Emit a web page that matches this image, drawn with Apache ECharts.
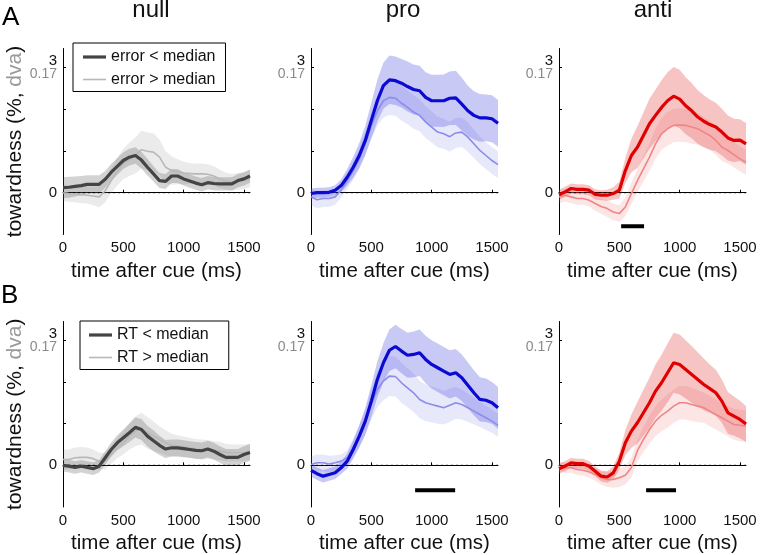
<!DOCTYPE html>
<html><head><meta charset="utf-8">
<script src="https://cdn.jsdelivr.net/npm/echarts@6/dist/echarts.min.js"></script>
<style>html,body{margin:0;padding:0;background:#fff}#c{width:760px;height:555px}</style>
</head><body><div id="c"></div>
<script>
// ---- data ----
const time = [0,50,100,150,200,250,300,350,400,450,500,550,600,650,700,750,800,850,900,950,1000,1050,1100,1150,1200,1250,1300,1350,1400,1450,1500,1550];
const xTicks = [0,500,1000,1500];
const yTicks = [0,1,2,3];
const yLabels = [0,3];
const zeroLine = [0, 1550];
const colTitles = ['null','pro','anti'];
const rowLabels = ['A','B'];
const legendA = ['error < median','error > median'];
const legendB = ['RT < median','RT > median'];

// row A (split by error)
const nullA_thick = [0.12,0.13,0.15,0.17,0.2,0.2,0.2,0.32,0.49,0.63,0.77,0.85,0.89,0.78,0.61,0.45,0.29,0.27,0.4,0.4,0.33,0.28,0.23,0.19,0.24,0.22,0.21,0.21,0.21,0.29,0.33,0.4];
const nullA_thin  = [0.0,-0.02,-0.03,-0.05,-0.06,-0.08,-0.1,0.05,0.29,0.5,0.69,0.8,0.89,1.03,0.99,0.97,0.85,0.61,0.53,0.5,0.47,0.46,0.45,0.45,0.44,0.4,0.33,0.28,0.25,0.27,0.29,0.33];
const nullA_thickHw = [0.25,0.25,0.24,0.23,0.22,0.22,0.22,0.2,0.2,0.2,0.2,0.2,0.2,0.2,0.2,0.18,0.18,0.18,0.17,0.17,0.16,0.16,0.16,0.16,0.16,0.16,0.16,0.16,0.16,0.16,0.16,0.16];
const nullA_thinHw  = [0.2,0.2,0.2,0.2,0.2,0.22,0.25,0.28,0.3,0.33,0.36,0.4,0.43,0.45,0.45,0.45,0.42,0.38,0.34,0.3,0.27,0.25,0.25,0.25,0.24,0.23,0.22,0.2,0.2,0.2,0.2,0.2];

const proA_thick = [-0.02,0,0,0.01,0.06,0.17,0.37,0.61,0.89,1.25,1.73,2.2,2.56,2.7,2.68,2.62,2.54,2.47,2.44,2.28,2.2,2.2,2.2,2.26,2.27,2.12,1.96,1.85,1.79,1.79,1.77,1.66];
const proA_thin  = [-0.1,-0.17,-0.14,-0.14,-0.1,0.06,0.29,0.53,0.81,1.17,1.6,1.96,2.2,2.28,2.26,2.14,2.04,1.93,1.85,1.69,1.57,1.45,1.41,1.34,1.43,1.45,1.33,1.17,1.01,0.89,0.77,0.67];
const proA_thickHw = [0.12,0.12,0.12,0.12,0.12,0.15,0.2,0.25,0.3,0.35,0.42,0.5,0.55,0.58,0.58,0.58,0.6,0.6,0.6,0.6,0.62,0.62,0.63,0.64,0.65,0.63,0.6,0.58,0.57,0.56,0.56,0.56];
const proA_thinHw  = [0.2,0.2,0.2,0.2,0.18,0.18,0.2,0.22,0.25,0.28,0.32,0.36,0.4,0.42,0.42,0.42,0.4,0.4,0.38,0.38,0.37,0.37,0.36,0.36,0.36,0.35,0.35,0.34,0.33,0.32,0.32,0.32];

const antiA_thick = [-0.05,0.02,0.1,0.08,0.08,0.06,-0.04,-0.06,-0.06,-0.02,0.06,0.53,0.89,1.09,1.37,1.65,1.85,2.04,2.2,2.31,2.24,2.08,1.96,1.81,1.71,1.63,1.57,1.45,1.31,1.25,1.26,1.17];
const antiA_thin  = [-0.1,-0.06,-0.1,-0.14,-0.14,-0.18,-0.26,-0.33,-0.38,-0.46,-0.5,-0.34,-0.02,0.29,0.57,0.85,1.17,1.41,1.53,1.61,1.62,1.61,1.57,1.53,1.45,1.37,1.25,1.09,1.01,0.91,0.81,0.73];
const antiA_thickHw = [0.12,0.12,0.12,0.12,0.12,0.12,0.12,0.12,0.13,0.15,0.2,0.3,0.4,0.5,0.55,0.6,0.62,0.65,0.68,0.7,0.7,0.68,0.66,0.64,0.62,0.6,0.58,0.56,0.54,0.52,0.5,0.5];
const antiA_thinHw  = [0.15,0.15,0.15,0.15,0.15,0.15,0.17,0.18,0.2,0.2,0.2,0.22,0.25,0.28,0.3,0.33,0.36,0.38,0.4,0.4,0.4,0.4,0.4,0.38,0.36,0.35,0.34,0.33,0.32,0.31,0.3,0.3];

// row B (split by RT)
const nullB_thick = [0,-0.02,-0.05,-0.02,-0.05,-0.08,-0.02,0.18,0.38,0.54,0.66,0.78,0.91,0.86,0.7,0.59,0.48,0.39,0.42,0.42,0.4,0.38,0.36,0.35,0.39,0.34,0.26,0.19,0.19,0.19,0.26,0.31];
const nullB_thin  = [0.14,0.14,0.18,0.19,0.19,0.16,0.1,0.1,0.26,0.42,0.54,0.7,0.82,0.88,0.78,0.7,0.62,0.54,0.48,0.46,0.44,0.42,0.39,0.38,0.38,0.36,0.34,0.31,0.3,0.3,0.3,0.32];
const nullB_thickHw = [0.15,0.15,0.15,0.15,0.15,0.15,0.15,0.16,0.17,0.18,0.2,0.22,0.24,0.25,0.25,0.25,0.23,0.22,0.2,0.2,0.2,0.2,0.2,0.2,0.2,0.2,0.2,0.2,0.2,0.2,0.2,0.2];
const nullB_thinHw  = [0.24,0.24,0.25,0.25,0.24,0.22,0.2,0.2,0.22,0.25,0.28,0.32,0.36,0.38,0.38,0.35,0.32,0.3,0.28,0.26,0.25,0.24,0.24,0.24,0.23,0.22,0.22,0.21,0.2,0.2,0.2,0.2];

const proB_thick = [-0.12,-0.2,-0.26,-0.22,-0.18,-0.06,0.1,0.38,0.7,1.06,1.54,2.06,2.46,2.76,2.85,2.74,2.64,2.66,2.7,2.54,2.42,2.34,2.26,2.18,2.22,2.1,1.92,1.74,1.58,1.56,1.5,1.38];
const proB_thin  = [0.02,0.06,0.06,0.03,0.06,0.1,0.18,0.42,0.7,1.02,1.46,1.82,2.02,2.14,2.13,1.98,1.86,1.74,1.58,1.5,1.46,1.42,1.38,1.44,1.5,1.46,1.38,1.3,1.22,1.14,1.06,0.96];
const proB_thickHw = [0.15,0.15,0.15,0.15,0.15,0.15,0.18,0.22,0.27,0.32,0.38,0.43,0.47,0.5,0.52,0.53,0.54,0.55,0.56,0.57,0.58,0.58,0.58,0.58,0.57,0.56,0.55,0.54,0.53,0.52,0.5,0.5];
const proB_thinHw  = [0.2,0.2,0.2,0.2,0.18,0.16,0.18,0.22,0.26,0.3,0.36,0.42,0.46,0.48,0.48,0.48,0.47,0.46,0.45,0.44,0.43,0.42,0.4,0.4,0.38,0.36,0.34,0.32,0.3,0.29,0.28,0.28];

const antiB_thick = [-0.08,-0.02,0.06,0.04,0.04,-0.02,-0.14,-0.26,-0.28,-0.18,0.1,0.54,0.82,1.02,1.26,1.5,1.78,1.98,2.22,2.46,2.42,2.3,2.18,2.06,1.94,1.84,1.74,1.54,1.26,1.18,1.1,0.99];
const antiB_thin  = [-0.02,-0.06,-0.06,-0.1,-0.12,-0.16,-0.22,-0.3,-0.34,-0.34,-0.3,-0.24,-0.05,0.35,0.62,0.86,1.06,1.2,1.3,1.42,1.5,1.5,1.46,1.42,1.38,1.3,1.22,1.14,1.06,0.98,0.96,0.94];
const antiB_thickHw = [0.12,0.12,0.12,0.12,0.12,0.12,0.12,0.13,0.14,0.16,0.2,0.3,0.4,0.5,0.55,0.6,0.64,0.67,0.7,0.72,0.72,0.7,0.68,0.65,0.62,0.58,0.55,0.52,0.5,0.47,0.45,0.43];
const antiB_thinHw  = [0.12,0.12,0.12,0.13,0.13,0.14,0.15,0.16,0.18,0.2,0.22,0.22,0.24,0.26,0.3,0.33,0.36,0.38,0.4,0.4,0.4,0.4,0.4,0.38,0.36,0.36,0.36,0.36,0.36,0.37,0.38,0.38];

// significance bars: [start ms, end ms, y]
const sigA_anti = [515, 705, -0.8];
const sigB_pro  = [863, 1195, -0.6];
const sigB_anti = [722, 970, -0.6];

// ---- styling ----
const FONT = 'Liberation Sans, Arial, sans-serif';
const pal = {
  null: {thick:'#444444', thin:'#b8b8b8', thickBand:'rgba(70,70,70,0.24)', thinBand:'rgba(110,110,110,0.14)'},
  pro:  {thick:'#0a0ad2', thin:'#8c8ceb', thickBand:'rgba(60,60,220,0.28)', thinBand:'rgba(100,100,230,0.15)'},
  anti: {thick:'#e00000', thin:'#f08585', thickBand:'rgba(230,60,60,0.30)', thinBand:'rgba(240,100,100,0.17)'}
};

const panels = [
  {kind:'null', row:0, col:0, thick:nullA_thick, thin:nullA_thin, thickHw:nullA_thickHw, thinHw:nullA_thinHw, names:legendA, sig:null},
  {kind:'pro',  row:0, col:1, thick:proA_thick,  thin:proA_thin,  thickHw:proA_thickHw,  thinHw:proA_thinHw,  names:null, sig:null},
  {kind:'anti', row:0, col:2, thick:antiA_thick, thin:antiA_thin, thickHw:antiA_thickHw, thinHw:antiA_thinHw, names:null, sig:sigA_anti},
  {kind:'null', row:1, col:0, thick:nullB_thick, thin:nullB_thin, thickHw:nullB_thickHw, thinHw:nullB_thinHw, names:legendB, sig:null},
  {kind:'pro',  row:1, col:1, thick:proB_thick,  thin:proB_thin,  thickHw:proB_thickHw,  thinHw:proB_thinHw,  names:null, sig:sigB_pro},
  {kind:'anti', row:1, col:2, thick:antiB_thick, thin:antiB_thin, thickHw:antiB_thickHw, thinHw:antiB_thinHw, names:null, sig:sigB_anti}
];

const gridLefts = [63, 311, 559];
const gridTops = [48.5, 321.5];
const gridW = 187, gridH = 186;

const grids = [], xAxes = [], yAxes = [], series = [];

panels.forEach((p, gi) => {
  const c = pal[p.kind];
  grids.push({left: gridLefts[p.col], top: gridTops[p.row], width: gridW, height: gridH, containLabel: false});
  xAxes.push({
    type:'value', gridIndex: gi, min: 0, max: 1550, interval: 500,
    name: 'time after cue (ms)', nameLocation:'middle', nameGap: 26,
    nameTextStyle: {fontSize: 20.5, color:'#111', fontFamily: FONT},
    axisLine: {show:true, lineStyle:{color:'#000', width:1}},
    axisTick: {show:true, inside:true, length:3, lineStyle:{color:'#000'}, customValues: xTicks},
    axisLabel: {show:true, margin:6, fontSize:15, color:'#111', fontFamily: FONT, customValues: xTicks,
      formatter: v => String(v)},
    splitLine: {show:false}
  });
  const yAx = {
    type:'value', gridIndex: gi, min: -1, max: 3.45, interval: 1,
    axisLine: {show:true, onZero:false, lineStyle:{color:'#000', width:1}},
    axisTick: {show:true, inside:true, length:3, lineStyle:{color:'#000'}, customValues: yTicks},
    axisLabel: {show:true, margin:6, fontFamily: FONT, customValues: yLabels,
      formatter: v => v === 3 ? '{k|3}\n{g|0.17}' : (v === 0 ? '{k|0}' : ''),
      rich: {k:{fontSize:15, color:'#111', fontFamily: FONT, lineHeight:13, align:'right'},
             g:{fontSize:14, color:'#8a8a8a', fontFamily: FONT, lineHeight:13, align:'right'}}},
    splitLine: {show:false}
  };
  if (p.col === 0) {
    yAx.name = '{a|towardness (%, }{b|dva}{a|)}';
    yAx.nameLocation = 'middle';
    yAx.nameGap = 37;
    yAx.nameTextStyle = {rich: {a:{fontSize:21, color:'#111', fontFamily: FONT}, b:{fontSize:21, color:'#9a9a9a', fontFamily: FONT}}};
  }
  yAxes.push(yAx);

  // shaded band (mean ± half-width) drawn as a polygon through the axis scales
  const band = (mean, hw, color) => {
    series.push({type:'custom', xAxisIndex:gi, yAxisIndex:gi, silent:true, z:1, animation:false,
      data:[[0, 0]],
      renderItem: (params, api) => {
        const up = time.map((t, i) => api.coord([t, mean[i] + hw[i]]));
        const dn = time.map((t, i) => api.coord([t, mean[i] - hw[i]])).reverse();
        return {type:'polygon', shape:{points: up.concat(dn)}, style:{fill: color}};
      }});
  };
  band(p.thin, p.thinHw, c.thinBand);
  band(p.thick, p.thickHw, c.thickBand);

  // dotted zero reference line
  series.push({type:'line', xAxisIndex:gi, yAxisIndex:gi, symbol:'none', silent:true, z:2, animation:false,
    data: zeroLine.map(x => [x, 0]), lineStyle:{color:'#000', width:1, type:[2,3]}});

  const names = p.names || [p.kind + gi + ' thick', p.kind + gi + ' thin'];
  series.push({type:'line', name: names[1], xAxisIndex:gi, yAxisIndex:gi, symbol:'none',
    data: time.map((t, i) => [t, p.thin[i]]), lineStyle:{color:c.thin, width:1.6}, itemStyle:{color:c.thin}, z:3, animation:false});
  series.push({type:'line', name: names[0], xAxisIndex:gi, yAxisIndex:gi, symbol:'none',
    data: time.map((t, i) => [t, p.thick[i]]), lineStyle:{color:c.thick, width:3.2}, itemStyle:{color:c.thick}, z:4, animation:false});
  if (p.sig) {
    series.push({type:'line', xAxisIndex:gi, yAxisIndex:gi, symbol:'none', silent:true,
      data: [[p.sig[0], p.sig[2]], [p.sig[1], p.sig[2]]], lineStyle:{color:'#000', width:4}, z:5, animation:false});
  }
});

const thickIcon = 'path://M0 0H23V3.2H0Z';
const thinIcon = 'path://M0 0H46V3.2H0Z';
const legendCommon = {orient:'vertical', backgroundColor:'#fff', borderColor:'#000', borderWidth:1,
  itemWidth:23, itemHeight:12, itemGap:6.5, selectedMode:false,
  textStyle:{fontSize:16, color:'#111', fontFamily: FONT, lineHeight:16}};
const legends = [
  Object.assign({}, legendCommon, {left:73, top:43, padding:[6,10,4,10],
    data: [{name:legendA[0], icon:thickIcon}, {name:legendA[1], icon:thinIcon}]}),
  Object.assign({}, legendCommon, {left:80, top:321, padding:[6,20,4,9],
    data: [{name:legendB[0], icon:thickIcon}, {name:legendB[1], icon:thinIcon}]})
];

const titleX = [151, 403, 653];
const graphic = [];
colTitles.forEach((t, i) => graphic.push({type:'text', x:titleX[i], y:10, silent:true,
  style:{text:t, fontSize:24, fontFamily:FONT, fill:'#111', align:'center', verticalAlign:'middle'}}));
graphic.push({type:'text', x:2, y:18, silent:true, style:{text:rowLabels[0], fontSize:26, fontFamily:FONT, fill:'#000', align:'left', verticalAlign:'middle'}});
graphic.push({type:'text', x:1, y:296, silent:true, style:{text:rowLabels[1], fontSize:26, fontFamily:FONT, fill:'#000', align:'left', verticalAlign:'middle'}});

const chart = echarts.init(document.getElementById('c'), null, {renderer:'canvas'});
chart.setOption({
  animation:false,
  backgroundColor:'#fff',
  grid: grids, xAxis: xAxes, yAxis: yAxes, series: series,
  legend: legends, graphic: graphic
});
</script></body></html>
